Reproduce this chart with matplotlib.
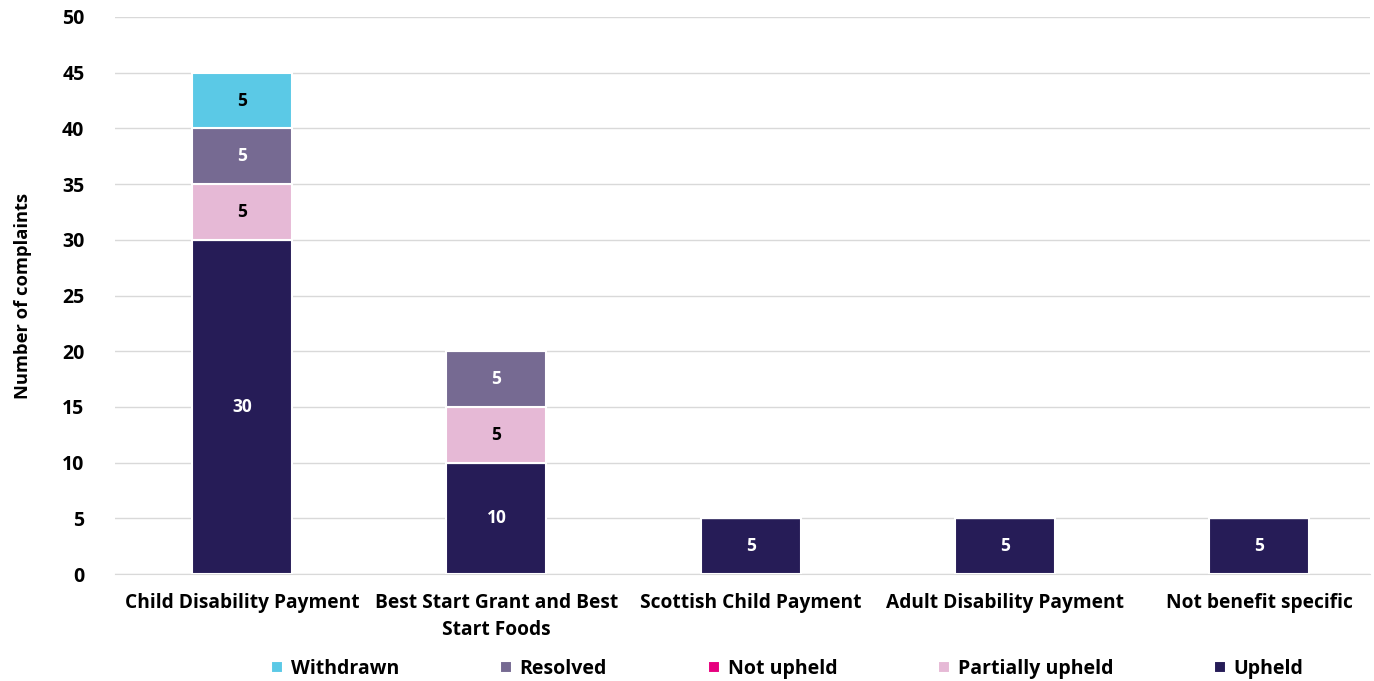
import matplotlib.pyplot as plt
import numpy as np

plt.rcParams['font.family'] = ['Open Sans', 'DejaVu Sans']
plt.rcParams['font.weight'] = 'bold'

categories = ["Child Disability Payment", "Best Start Grant and Best\nStart Foods",
              "Scottish Child Payment", "Adult Disability Payment", "Not benefit specific"]
upheld = [30, 10, 5, 5, 5]
not_upheld = [0, 0, 0, 0, 0]
partially_upheld = [5, 5, 0, 0, 0]
resolved = [5, 5, 0, 0, 0]
withdrawn = [5, 0, 0, 0, 0]

# bottom to top stacking order
series = [
    ("Upheld", upheld, "#261c57", "white"),
    ("Not upheld", not_upheld, "#e6007e", "white"),
    ("Partially upheld", partially_upheld, "#e6b9d6", "black"),
    ("Resolved", resolved, "#766a92", "white"),
    ("Withdrawn", withdrawn, "#5bc9e6", "black"),
]

fig = plt.figure(figsize=(13.74, 6.81), dpi=100)
ax = fig.add_axes([115 / 1374, 1 - 574 / 681, 1255 / 1374, 557 / 681])

x = np.arange(len(categories))
bottom = np.zeros(len(categories))
handles = {}
for name, vals, color, tcol in series:
    vals = np.array(vals, dtype=float)
    bars = ax.bar(x, vals, 0.393, bottom=bottom, color=color,
                  edgecolor="white", linewidth=1.5, zorder=3, label=name)
    handles[name] = bars
    for xi, b, v in zip(x, bottom, vals):
        if v > 0:
            ax.text(xi, b + v / 2, f"{int(v)}", ha="center", va="center",
                    color=tcol, fontsize=12.5, fontweight="bold", zorder=4)
    bottom += vals

ax.set_ylim(0, 50)
ax.set_xlim(-0.5, 4.436)
ax.set_yticks(range(0, 51, 5))
ax.yaxis.grid(True, color="#d9d9d9", linewidth=1, zorder=0)
ax.set_axisbelow(True)
for s in ["top", "right", "left"]:
    ax.spines[s].set_visible(False)
ax.spines["bottom"].set_color("#d9d9d9")
ax.tick_params(axis="x", length=0, labelsize=13.8, pad=14)
ax.tick_params(axis="y", length=0, labelsize=14, pad=22)
ax.set_xticks(x)
ax.set_xticklabels(categories, fontsize=13.8, fontweight="bold", linespacing=1.45)
ax.set_ylabel("Number of complaints", fontsize=13.2, fontweight="bold", labelpad=22)

order = ["Withdrawn", "Resolved", "Not upheld", "Partially upheld", "Upheld"]
fig.legend([handles[n] for n in order], order, loc="center", ncol=5,
           bbox_to_anchor=(787.5 / 1374, 1 - 669 / 681), frameon=False, fontsize=14,
           handlelength=0.6, handleheight=0.6, columnspacing=5.2, handletextpad=0.4,
           borderaxespad=0, borderpad=0)

fig.savefig("out.png", dpi=100)
